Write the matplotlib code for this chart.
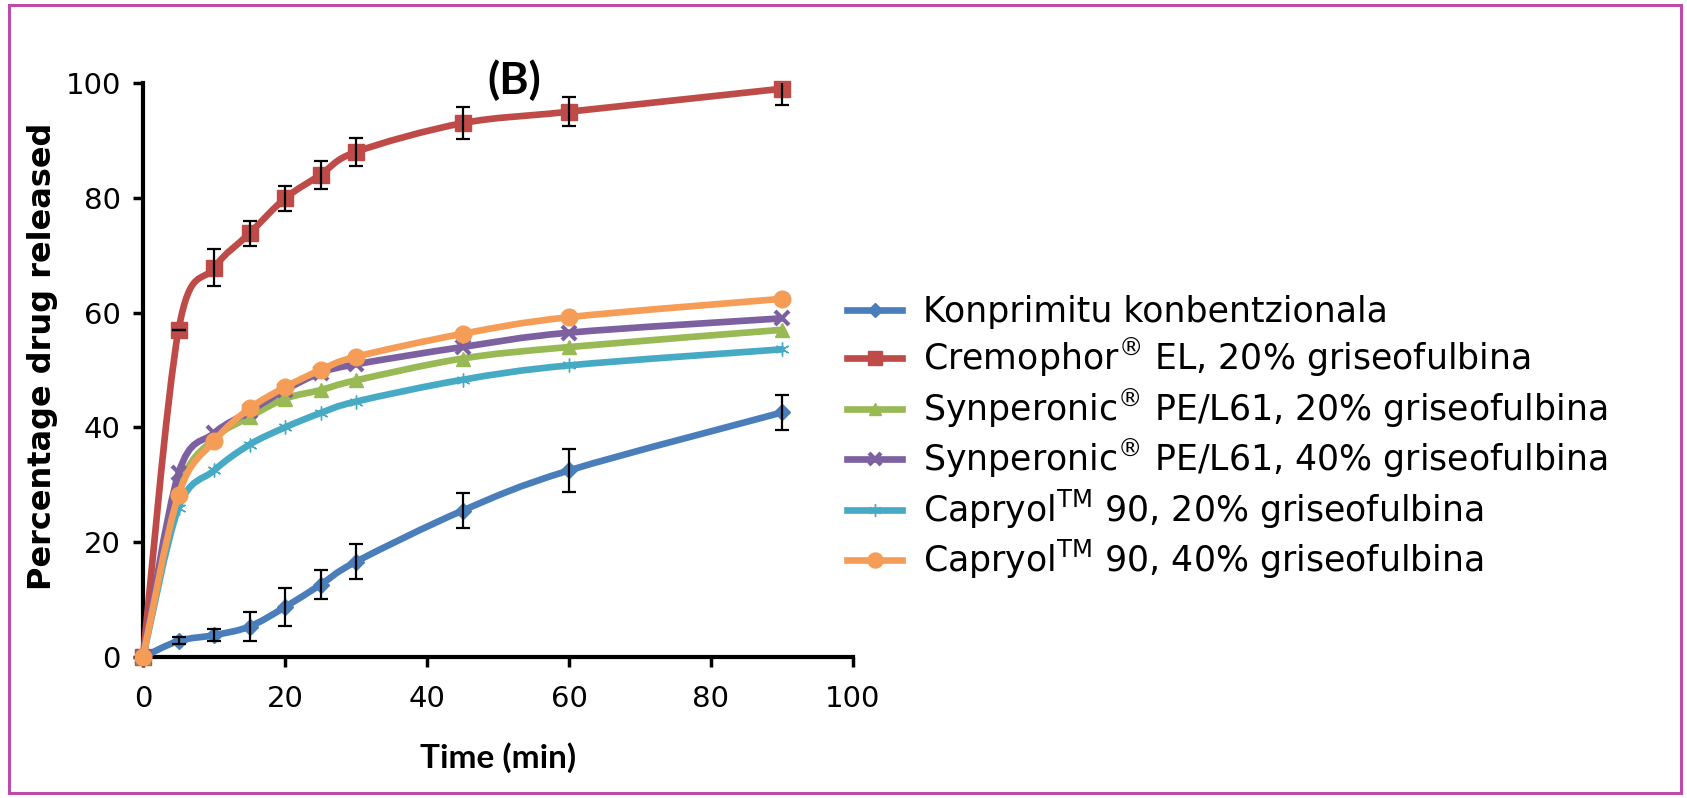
import numpy as np
import matplotlib
matplotlib.use("Agg")
import matplotlib.pyplot as plt
from matplotlib.path import Path
from matplotlib.patches import PathPatch, Rectangle
from matplotlib.lines import Line2D

time = [0, 5, 10, 15, 20, 25, 30, 45, 60, 90]

konprimitu = [0, 2.8, 3.8, 5.3, 8.7, 12.6, 16.6, 25.5, 32.5, 42.6]
konprimitu_err = [0.3, 0.6, 1.0, 2.5, 3.3, 2.5, 3.0, 3.0, 3.8, 3.0]
cremophor = [0, 57.0, 67.8, 73.8, 79.9, 84.0, 88.0, 93.0, 95.0, 99.0]
cremophor_err = [0, 0, 3.2, 2.2, 2.2, 2.4, 2.4, 2.8, 2.5, 2.8]
synp20 = [0, 29.0, 38.0, 41.8, 45.0, 46.5, 48.2, 52.0, 54.0, 57.0]
synp40 = [0, 32.0, 39.0, 42.8, 46.5, 49.5, 51.0, 54.0, 56.5, 59.0]
capr20 = [0, 26.0, 32.5, 37.0, 40.0, 42.5, 44.5, 48.3, 50.8, 53.6]
capr40 = [0, 28.3, 37.6, 43.3, 47.0, 50.0, 52.3, 56.3, 59.2, 62.4]

labels = [
    "Konprimitu konbentzionala",
    r"Cremophor$^{\circledR}$ EL, 20% griseofulbina",
    r"Synperonic$^{\circledR}$ PE/L61, 20% griseofulbina",
    r"Synperonic$^{\circledR}$ PE/L61, 40% griseofulbina",
    r"Capryol$^{\mathrm{TM}}$ 90, 20% griseofulbina",
    r"Capryol$^{\mathrm{TM}}$ 90, 40% griseofulbina",
]
x_ticks = [0, 20, 40, 60, 80, 100]
y_ticks = [0, 20, 40, 60, 80, 100]

colors = ["#4A7EBB", "#BE4B48", "#98B954", "#7D60A0", "#46AAC5", "#F59D56"]
markers = ["D", "s", "^", "x", (6, 2, 0), "o"]
msizes = [8, 11, 10, 10, 10, 12]

plt.rcParams["mathtext.fontset"] = "dejavusans"
plt.rcParams["mathtext.default"] = "regular"

fig = plt.figure(figsize=(16.87, 7.98), dpi=100)
ax = fig.add_axes([0.0848, 0.1767, 0.4208, 0.7193])


def smooth_path(xs, ys):
    xs = np.asarray(xs, float)
    ys = np.asarray(ys, float)
    verts = [(xs[0], ys[0])]
    codes = [Path.MOVETO]
    n = len(xs)
    t = 1.0 / 6.0
    for i in range(n - 1):
        p0 = (xs[max(i - 1, 0)], ys[max(i - 1, 0)])
        p1 = (xs[i], ys[i])
        p2 = (xs[i + 1], ys[i + 1])
        p3 = (xs[min(i + 2, n - 1)], ys[min(i + 2, n - 1)])
        c1 = (p1[0] + (p2[0] - p0[0]) * t, p1[1] + (p2[1] - p0[1]) * t)
        c2 = (p2[0] - (p3[0] - p1[0]) * t, p2[1] - (p3[1] - p1[1]) * t)
        verts += [c1, c2, p2]
        codes += [Path.CURVE4] * 3
    return Path(verts, codes)


series = [konprimitu, cremophor, synp20, synp40, capr20, capr40]
errs = [konprimitu_err, cremophor_err, None, None, None, None]

handles = []
for i, (ys, c, m, ms) in enumerate(zip(series, colors, markers, msizes)):
    patch = PathPatch(smooth_path(time, ys), facecolor="none", edgecolor=c,
                      lw=4.8, transform=ax.transData, zorder=3 + i * 0.1,
                      clip_on=False, capstyle="round")
    ax.add_patch(patch)
    mew = 3 if m == "x" else 1
    ax.plot(time, ys, linestyle="none", marker=m, color=c, ms=ms,
            mew=mew, mec=c, zorder=3.05 + i * 0.1, clip_on=False)
    if errs[i] is not None:
        ax.errorbar(time[1:], ys[1:], yerr=errs[i][1:], fmt="none",
                    ecolor="black", elinewidth=1.6, capsize=5, capthick=1.6,
                    zorder=3.5)
    handles.append(Line2D([0], [0], color=c, lw=4.8, marker=m, ms=ms * 0.9,
                          mew=mew, mec=c))

ax.set_xlim(0, 100)
ax.set_ylim(0, 100)
ax.set_xticks(x_ticks)
ax.set_yticks(y_ticks)
for s in ["top", "right"]:
    ax.spines[s].set_visible(False)
for s in ["left", "bottom"]:
    ax.spines[s].set_linewidth(3)
ax.tick_params(axis="both", direction="out", length=7, width=2.5,
               labelsize=21, pad=9)
ax.tick_params(axis="x", pad=13)

ax.set_xlabel("Time (min)", fontsize=24, fontweight="bold", family="Lato")
ax.set_ylabel("Percentage drug released", fontsize=23, fontweight="bold",
              family="DejaVu Sans")
ax.xaxis.set_label_coords(0.5, -0.176)
ax.xaxis.label.set_va("center")
ax.yaxis.set_label_coords(-0.141, 0.524)
ax.yaxis.label.set_va("center")
ax.text(52.3, 100.5, "(B)", fontsize=32, fontweight="bold", family="Lato",
        ha="center", va="center")

fig.legend(handles, labels, loc="upper left", bbox_to_anchor=(0.4938, 0.648),
           frameon=False, fontsize=25, handlelength=1.6, labelspacing=0.21,
           handletextpad=0.58, borderaxespad=0)

fig.patches.append(Rectangle((9 / 1687, 5 / 798), 1672 / 1687, 788 / 798,
                             transform=fig.transFigure, fill=False,
                             edgecolor="#BE4BAA", lw=2.2))

fig.savefig("out.png", dpi=100)
